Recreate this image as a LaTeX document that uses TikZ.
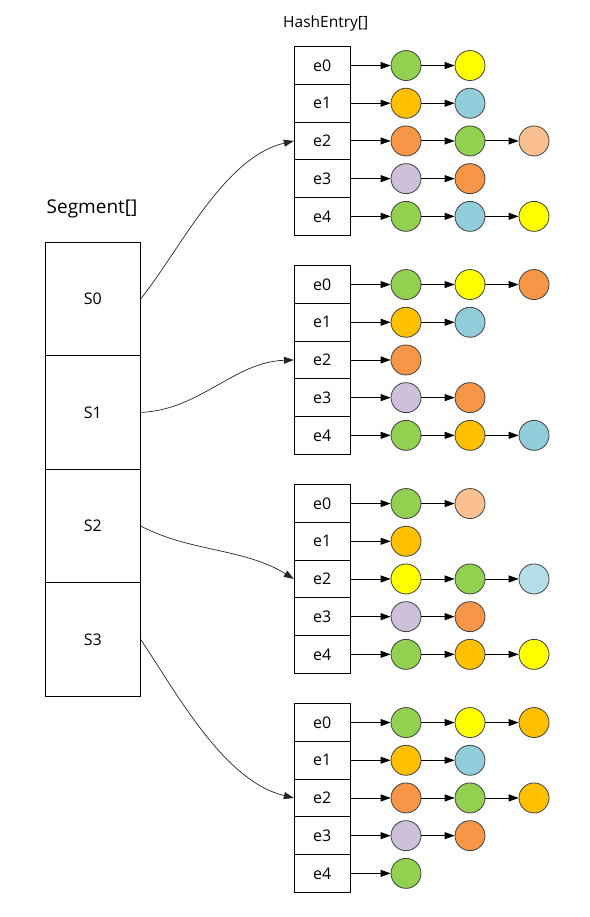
\documentclass[tikz,border=0pt]{standalone}
\usepackage{fontspec}
\setmainfont{Open Sans}
\usetikzlibrary{arrows.meta}
\definecolor{cg}{HTML}{92D050}
\definecolor{cy}{HTML}{FFFF00}
\definecolor{co}{HTML}{FFC000}
\definecolor{cb}{HTML}{92CDDC}
\definecolor{cs}{HTML}{F79646}
\definecolor{cp}{HTML}{FAC090}
\definecolor{cl}{HTML}{CCC0DA}
\definecolor{cq}{HTML}{B7DEE8}
\definecolor{edge}{HTML}{404040}
\tikzset{
  cell/.style={draw=black, line width=0.9pt, minimum width=56pt, minimum height=37.7pt, inner sep=0pt, font=\fontsize{16}{18}\selectfont},
  segbox/.style={draw=black, line width=0.9pt, minimum width=95pt, minimum height=113.6pt, inner sep=0pt, font=\fontsize{16}{18}\selectfont},
  ball/.style={circle, draw=edge, line width=0.8pt, minimum size=30pt, inner sep=0pt},
  arr/.style={draw=black, line width=0.9pt, -{Triangle[length=10pt,width=7pt]}},
  curv/.style={draw=black!85, line width=0.7pt, -{Triangle[length=10pt,width=7pt]}},
  title/.style={inner sep=0pt, anchor=base west}
}
\newcommand\mychain[3]{%
  \xdef\myprev{t#1e#2}%
  \foreach \c [count=\j] in {#3} {%
    \pgfmathsetmacro\xx{406+64*(\j-1)}%
    \node[ball, fill=\c] (c#1-#2-\j) at (\xx,0 |- t#1e#2) {};
    \draw[arr] (\myprev) -- (c#1-#2-\j);
    \xdef\myprev{c#1-#2-\j}%
  }%
}
\begin{document}
\begin{tikzpicture}[x=1pt,y=-1pt]
\useasboundingbox (0,0) rectangle (589,917);
\fill[white] (0,0) rectangle (589,917);
% titles
\node[title, font=\fontsize{15.5}{18}\selectfont] (ht) at (283,28) {HashEntry[]};
\node[title, font=\fontsize{19}{22}\selectfont] (st) at (46.5,213.3) {Segment[]};
% tables
\foreach \g in {0,1,2,3} {
  \foreach \i in {0,...,4} {
    \pgfmathsetmacro\yy{46.7+219*\g+37.7*(\i+0.5)}
    \node[cell] (t\g e\i) at (322.3,\yy) {e\i};
  }
}
% segments
\foreach \k in {0,1,2,3} {
  \pgfmathsetmacro\yy{242+113.6*(\k+0.5)}
  \node[segbox] (s\k) at (92.8,\yy) {S\k};
}
% chains
\mychain{0}{0}{cg,cy}
\mychain{0}{1}{co,cb}
\mychain{0}{2}{cs,cg,cp}
\mychain{0}{3}{cl,cs}
\mychain{0}{4}{cg,cb,cy}
\mychain{1}{0}{cg,cy,cs}
\mychain{1}{1}{co,cb}
\mychain{1}{2}{cs}
\mychain{1}{3}{cl,cs}
\mychain{1}{4}{cg,co,cb}
\mychain{2}{0}{cg,cp}
\mychain{2}{1}{co}
\mychain{2}{2}{cy,cg,cq}
\mychain{2}{3}{cl,cs}
\mychain{2}{4}{cg,co,cy}
\mychain{3}{0}{cg,cy,co}
\mychain{3}{1}{co,cb}
\mychain{3}{2}{cs,cg,co}
\mychain{3}{3}{cl,cs}
\mychain{3}{4}{cg}
% curved connectors
\draw[curv] (s0.east) .. controls (180,250) and (224,157) .. (t0e2.west);
\draw[curv] (s1.east) .. controls (200,410) and (234,362) .. (t1e2.west);
\draw[curv] (s2.east) .. controls (190,552) and (244,548) .. (t2e2.west);
\draw[curv] (s3.east) .. controls (178,695) and (224,781) .. (t3e2.west);
\end{tikzpicture}
\end{document}
